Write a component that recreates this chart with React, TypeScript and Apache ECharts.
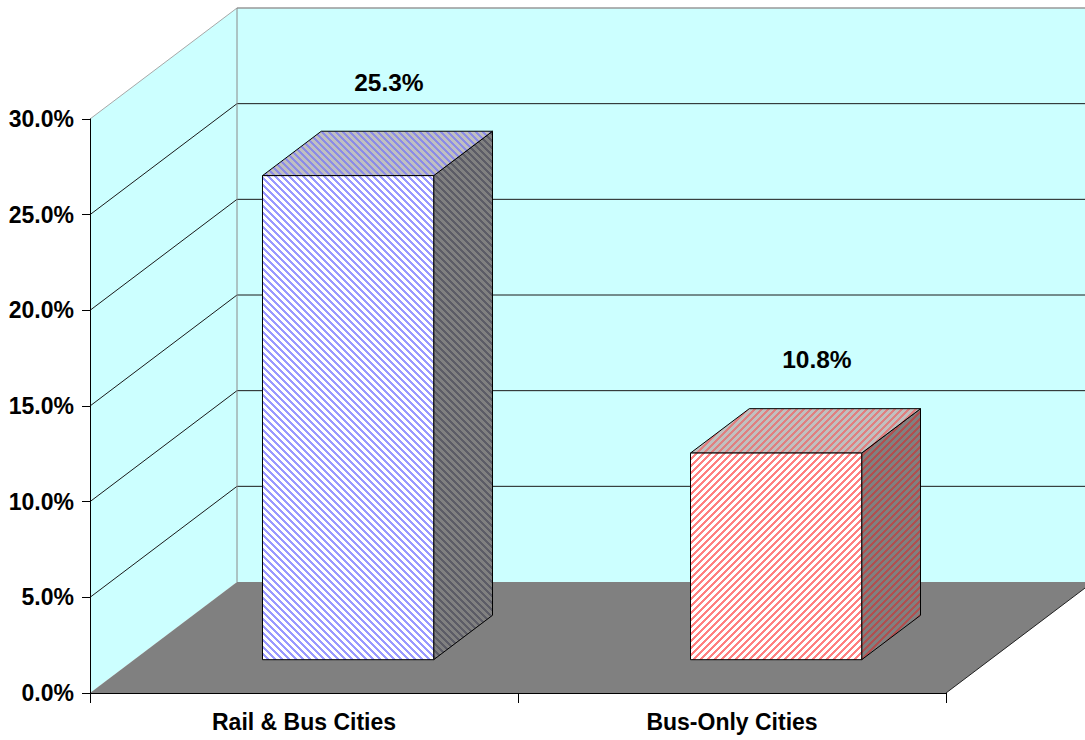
import React, { useEffect, useRef } from "react";
import * as echarts from "echarts";

const categories = ["Rail & Bus Cities", "Bus-Only Cities"];
const shareValues = [25.3, 10.8];
const valueLabels = ["25.3%", "10.8%"];
const yTicks = [0, 5, 10, 15, 20, 25, 30];
const yTickLabels = ["0.0%", "5.0%", "10.0%", "15.0%", "20.0%", "25.0%", "30.0%"];

const FONT = "Liberation Sans";
const WALL = "#CCFFFF";
const FLOOR = "#808080";
const DX = 147;
const DY = -111;
const F1 = 0.3;
const F2 = 0.7;
const P = 7;

function makePattern(bg: string, fg: string, dir: "down" | "up") {
  const c = document.createElement("canvas");
  c.width = P;
  c.height = P;
  const ctx = c.getContext("2d")!;
  ctx.fillStyle = bg;
  ctx.fillRect(0, 0, P, P);
  ctx.fillStyle = fg;
  for (let y = 0; y < P; y++) {
    for (let x = 0; x < P; x++) {
      const k = dir === "down" ? x - y : x + y;
      if ((((k % P) + P) % P) < 3) ctx.fillRect(x, y, 1, 1);
    }
  }
  return { image: c, repeat: "repeat", imageWidth: P, imageHeight: P } as any;
}

export default function App() {
  const ref = useRef<HTMLDivElement>(null);
  useEffect(() => {
    if (!ref.current) return;
    const chart = echarts.init(ref.current, undefined, { renderer: "svg" });

    const faces = [
      {
        front: makePattern("#FFFFFF", "#9999FF", "down"),
        top: makePattern("#C0C0C0", "#8C8CE6", "down"),
        side: makePattern("#808080", "#5C5C66", "down"),
      },
      {
        front: makePattern("#FFFFFF", "#FF8080", "up"),
        top: makePattern("#C0C0C0", "#E08080", "up"),
        side: makePattern("#808080", "#B05050", "up"),
      },
    ];

    const yMin = yTicks[0];
    const yMax = yTicks[yTicks.length - 1];

    const option: any = {
      animation: false,
      backgroundColor: "#FFFFFF",
      grid: { left: 90, top: 119, width: 856, height: 574, containLabel: false },
      xAxis: {
        type: "category",
        data: categories,
        z: 10,
        axisLine: { show: true, lineStyle: { color: "#000", width: 1 } },
        axisTick: { show: true, length: 10, lineStyle: { color: "#000" } },
        axisLabel: {
          margin: 17,
          color: "#000",
          fontFamily: FONT,
          fontWeight: "bold",
          fontSize: 23,
        },
        splitLine: { show: false },
      },
      yAxis: {
        type: "value",
        min: yMin,
        max: yMax,
        interval: yTicks[1] - yTicks[0],
        z: 10,
        axisLine: { show: true, lineStyle: { color: "#000", width: 1 } },
        axisTick: { show: true, length: 8, lineStyle: { color: "#000" } },
        axisLabel: {
          margin: 16,
          color: "#000",
          fontFamily: FONT,
          fontWeight: "bold",
          fontSize: 23,
          formatter: (v: number) => {
            const i = yTicks.indexOf(v);
            return i >= 0 ? yTickLabels[i] : v.toFixed(1) + "%";
          },
        },
        splitLine: { show: false },
      },
      series: [
        {
          type: "custom",
          z: 1,
          silent: true,
          clip: false,
          data: [[0, 0]],
          encode: { x: 0, y: 1 },
          renderItem: (params: any, api: any) => {
            const cs = params.coordSys;
            const x0 = cs.x;
            const x1 = cs.x + cs.width;
            const yT = cs.y;
            const yB = cs.y + cs.height;
            const children: any[] = [];
            children.push({
              type: "polygon",
              shape: { points: [[x0, yB], [x0, yT], [x0 + DX, yT + DY], [x0 + DX, yB + DY]] },
              style: { fill: WALL, stroke: null },
            });
            children.push({
              type: "rect",
              shape: { x: x0 + DX, y: yT + DY, width: x1 - x0, height: yB - yT },
              style: { fill: WALL, stroke: null },
            });
            yTicks.forEach((v) => {
              if (v <= yMin || v >= yMax) return;
              const y = api.coord([0, v])[1];
              children.push({
                type: "line",
                shape: { x1: x0, y1: y, x2: x0 + DX, y2: y + DY },
                style: { stroke: "#1A1A1A", lineWidth: 1 },
              });
              children.push({
                type: "line",
                shape: { x1: x0 + DX, y1: y + DY, x2: x1 + DX, y2: y + DY },
                style: { stroke: "#1A1A1A", lineWidth: 1 },
              });
            });
            children.push({
              type: "line",
              shape: { x1: x0, y1: yT, x2: x0 + DX, y2: yT + DY },
              style: { stroke: "#A8A8A8", lineWidth: 1 },
            });
            children.push({
              type: "line",
              shape: { x1: x0 + DX, y1: yT + DY, x2: x1 + DX, y2: yT + DY },
              style: { stroke: "#999999", lineWidth: 1.5 },
            });
            children.push({
              type: "line",
              shape: { x1: x0 + DX, y1: yT + DY, x2: x0 + DX, y2: yB + DY },
              style: { stroke: "#8A8A8A", lineWidth: 1 },
            });
            children.push({
              type: "polygon",
              shape: { points: [[x0, yB], [x1, yB], [x1 + DX, yB + DY], [x0 + DX, yB + DY]] },
              style: { fill: FLOOR, stroke: null },
            });
            children.push({
              type: "line",
              shape: { x1: x1, y1: yB, x2: x1 + DX, y2: yB + DY },
              style: { stroke: "#222222", lineWidth: 1 },
            });
            return { type: "group", children };
          },
        },
        {
          type: "custom",
          z: 3,
          silent: true,
          clip: false,
          data: shareValues.map((v, i) => [i, v]),
          encode: { x: 0, y: 1 },
          renderItem: (params: any, api: any) => {
            const idx = api.value(0);
            const v = api.value(1);
            const base = api.coord([idx, 0]);
            const top = api.coord([idx, v]);
            const bw = api.size([1, 0])[0] * 0.4;
            const fx = base[0] - bw / 2 + DX * F1;
            const fy0 = base[1] + DY * F1;
            const fy1 = top[1] + DY * F1;
            const bx = DX * (F2 - F1);
            const by = DY * (F2 - F1);
            const f = faces[idx % faces.length];
            const edge = { stroke: "#000", lineWidth: 1 };
            return {
              type: "group",
              children: [
                {
                  type: "polygon",
                  shape: { points: [[fx + bw, fy1], [fx + bw + bx, fy1 + by], [fx + bw + bx, fy0 + by], [fx + bw, fy0]] },
                  style: { fill: f.side, ...edge },
                },
                {
                  type: "polygon",
                  shape: { points: [[fx, fy1], [fx + bw, fy1], [fx + bw + bx, fy1 + by], [fx + bx, fy1 + by]] },
                  style: { fill: f.top, ...edge },
                },
                {
                  type: "rect",
                  shape: { x: fx, y: fy1, width: bw, height: fy0 - fy1 },
                  style: { fill: f.front, ...edge },
                },
                {
                  type: "text",
                  x: fx + bw / 2 + bx - 18,
                  y: fy1 + by - 49,
                  style: {
                    text: valueLabels[idx],
                    fill: "#000",
                    fontFamily: FONT,
                    fontWeight: "bold",
                    fontSize: 24.5,
                    align: "center",
                    verticalAlign: "middle",
                    textAlign: "center",
                    textVerticalAlign: "middle",
                  },
                },
              ],
            };
          },
        },
      ],
    };
    chart.setOption(option);
    return () => chart.dispose();
  }, []);
  return (
    <div
      ref={ref}
      style={{ position: "fixed", left: 0, top: 0, width: 1085, height: 740, background: "#fff" }}
    />
  );
}
